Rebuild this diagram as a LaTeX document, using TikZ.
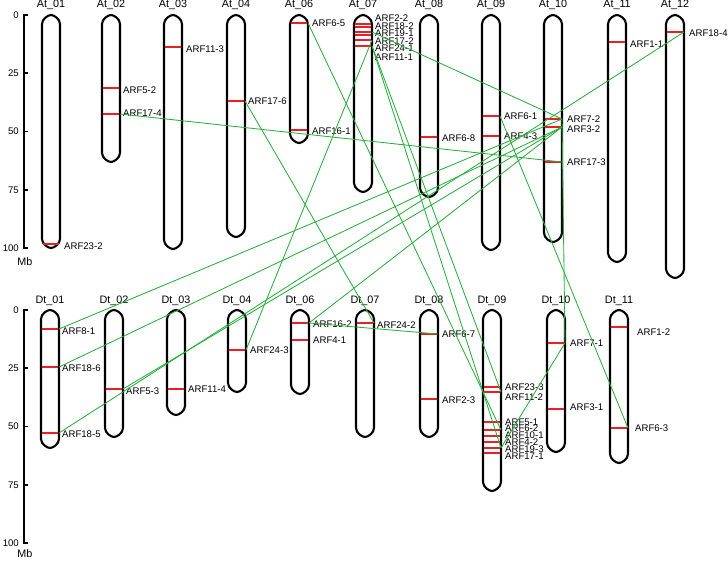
\documentclass[tikz,border=0pt]{standalone}
\usepackage{fontspec}
\setmainfont{Liberation Sans}
\definecolor{lnk}{RGB}{40,175,60}
\definecolor{rmk}{RGB}{235,30,36}
\tikzset{
 chrom/.style={draw=black, line width=2.1pt},
 redbar/.style={draw=rmk, line width=2.5pt},
 link/.style={draw=lnk, line width=0.85pt},
 lab/.style={anchor=west, inner sep=0pt, font=\fontsize{9.6}{10}\selectfont},
 chrlab/.style={inner sep=0pt, font=\fontsize{10.8}{12}\selectfont},
 axlab/.style={anchor=east, inner sep=0pt, font=\fontsize{9.6}{10}\selectfont},
 axline/.style={draw=black, line width=1.6pt},
}
\newcommand{\chromo}[6]{%
 \draw[chrom] ({#2-9},{#3+9}) .. controls ({#2-9},{#3+4}) and ({#2-3},#3) .. (#2,#3) .. controls ({#2+3},#3) and ({#2+9},{#3+4}) .. ({#2+9},{#3+9}) -- ({#2+9},{#4-9}) .. controls ({#2+9},{#4-4}) and ({#2+3},#4) .. (#2,#4) .. controls ({#2-3},#4) and ({#2-9},{#4-4}) .. ({#2-9},{#4-9}) -- cycle;
 \node[chrlab] (#1) at (#2,#6) {#5};}
\newcommand{\gene}[5]{%
 \draw[redbar] ({#2-8},#3) -- ({#2+8},#3);
 \coordinate (#1) at ({#2+9},#3);
 \node[lab] (L#1) at (#4,#5) {#1};}
\begin{document}
\begin{tikzpicture}[x=1pt,y=-1pt]
\useasboundingbox (0,0) rectangle (728,561);
% axes
\draw[axline] (24,15) -- (24,248);
\foreach \v/\yy in {0/15,25/73.25,50/131.5,75/189.75,100/248}{
 \draw[axline] (23.2,\yy) -- (28,\yy);
 \node[axlab] (ta\v) at (19,\yy) {\v};}
\node[chrlab] (tmb) at (25,262) {Mb};
\draw[axline] (24,310) -- (24,543);
\foreach \v/\yy in {0/310,25/368.25,50/426.5,75/484.75,100/543}{
 \draw[axline] (23.2,\yy) -- (28,\yy);
 \node[axlab] (ba\v) at (19,\yy) {\v};}
\node[chrlab] (bmb) at (25,554) {Mb};
% top chromosomes
\chromo{At01}{51}{15}{248}{At\_01}{5}
\chromo{At02}{111}{15}{162}{At\_02}{5}
\chromo{At03}{173}{15}{249}{At\_03}{5}
\chromo{At04}{236}{15}{237}{At\_04}{5}
\chromo{At06}{299}{15}{143}{At\_06}{5}
\chromo{At07}{363}{15}{192}{At\_07}{5}
\chromo{At08}{429}{15}{197}{At\_08}{5}
\chromo{At09}{491}{15}{250}{At\_09}{5}
\chromo{At10}{553}{15}{242}{At\_10}{5}
\chromo{At11}{617}{15}{262}{At\_11}{5}
\chromo{At12}{675}{15}{278}{At\_12}{5}
% bottom chromosomes
\chromo{Dt01}{50}{310}{448}{Dt\_01}{301}
\chromo{Dt02}{114}{310}{437}{Dt\_02}{301}
\chromo{Dt03}{176}{310}{415}{Dt\_03}{301}
\chromo{Dt04}{237}{310}{392}{Dt\_04}{301}
\chromo{Dt06}{300}{310}{394}{Dt\_06}{301}
\chromo{Dt07}{365}{310}{437}{Dt\_07}{301}
\chromo{Dt08}{429}{310}{437}{Dt\_08}{301}
\chromo{Dt09}{492}{310}{491}{Dt\_09}{301}
\chromo{Dt10}{556}{310}{452}{Dt\_10}{301}
\chromo{Dt11}{619}{310}{463}{Dt\_11}{301}
% top genes
\gene{ARF23-2}{51}{244}{64}{246}
\gene{ARF5-2}{111}{88}{123}{90}
\gene{ARF17-4}{111}{114}{123}{113}
\gene{ARF11-3}{173}{47}{186}{49}
\gene{ARF17-6}{236}{101}{248}{101}
\gene{ARF6-5}{299}{23}{312}{23}
\gene{ARF16-1}{299}{130}{312}{131}
\gene{ARF2-2}{363}{24}{375}{18}
\gene{ARF18-2}{363}{27}{375}{26}
\gene{ARF19-1}{363}{32}{375}{33}
\gene{ARF17-2}{363}{35}{375}{41}
\gene{ARF24-1}{363}{40}{375}{48}
\gene{ARF11-1}{363}{46}{375}{57}
\gene{ARF6-8}{429}{137}{442}{138}
\gene{ARF6-1}{491}{116}{504}{116}
\gene{ARF4-3}{491}{136}{504}{136}
\gene{ARF7-2}{553}{119}{567}{119}
\gene{ARF3-2}{553}{127}{567}{129}
\gene{ARF17-3}{553}{162}{567}{162}
\gene{ARF1-1}{617}{42}{630}{44}
\gene{ARF18-4}{675}{32}{689}{33}
% bottom genes
\gene{ARF8-1}{50}{329}{62}{331}
\gene{ARF18-6}{50}{367}{62}{368}
\gene{ARF18-5}{50}{433}{62}{434}
\gene{ARF5-3}{114}{389}{126}{391}
\gene{ARF11-4}{176}{389}{188}{389}
\gene{ARF24-3}{237}{350}{250}{350}
\gene{ARF16-2}{300}{323}{313}{324}
\gene{ARF4-1}{300}{340}{313}{340}
\gene{ARF24-2}{365}{323}{377}{325}
\gene{ARF6-7}{429}{334}{442}{334}
\gene{ARF2-3}{429}{399}{442}{400}
\gene{ARF23-3}{492}{387}{505}{387}
\gene{ARF11-2}{492}{392}{505}{397}
\gene{ARF5-1}{492}{422}{505}{422}
\gene{ARF6-2}{492}{430}{505}{428}
\gene{ARF10-1}{492}{436}{505}{435}
\gene{ARF4-2}{492}{442}{505}{442}
\gene{ARF19-3}{492}{448}{505}{449}
\gene{ARF17-1}{492}{453}{505}{456}
\gene{ARF7-1}{556}{343}{570}{343}
\gene{ARF3-1}{556}{409}{570}{407}
\gene{ARF1-2}{619}{327}{637}{332}
\gene{ARF6-3}{619}{428}{635}{428}
% links
\draw[link] (ARF17-4) -- (ARF17-3);
\draw[link] (ARF17-6) -- (ARF24-2);
\draw[link] (ARF6-5) -- (ARF6-2);
\draw[link] (ARF19-1) -- (ARF7-2);
\draw[link] (ARF24-1) -- (ARF24-3);
\draw[link] (ARF11-1) -- (ARF11-2);
\draw[link] (ARF11-1) -- (ARF19-3);
\draw[link] (ARF18-4) -- (ARF18-5);
\draw[link] (ARF6-1) -- (ARF6-3);
\draw[link] (ARF7-2) -- (ARF7-1);
\draw[link] (ARF7-1) -- (ARF19-3);
\draw[link] (ARF8-1) -- (ARF7-2);
\draw[link] (ARF18-6) -- (ARF3-2);
\draw[link] (ARF5-3) -- (ARF3-2);
\draw[link] (ARF16-2) -- (ARF3-2);
\draw[link] (ARF16-2) -- (ARF6-7);
\end{tikzpicture}
\end{document}
